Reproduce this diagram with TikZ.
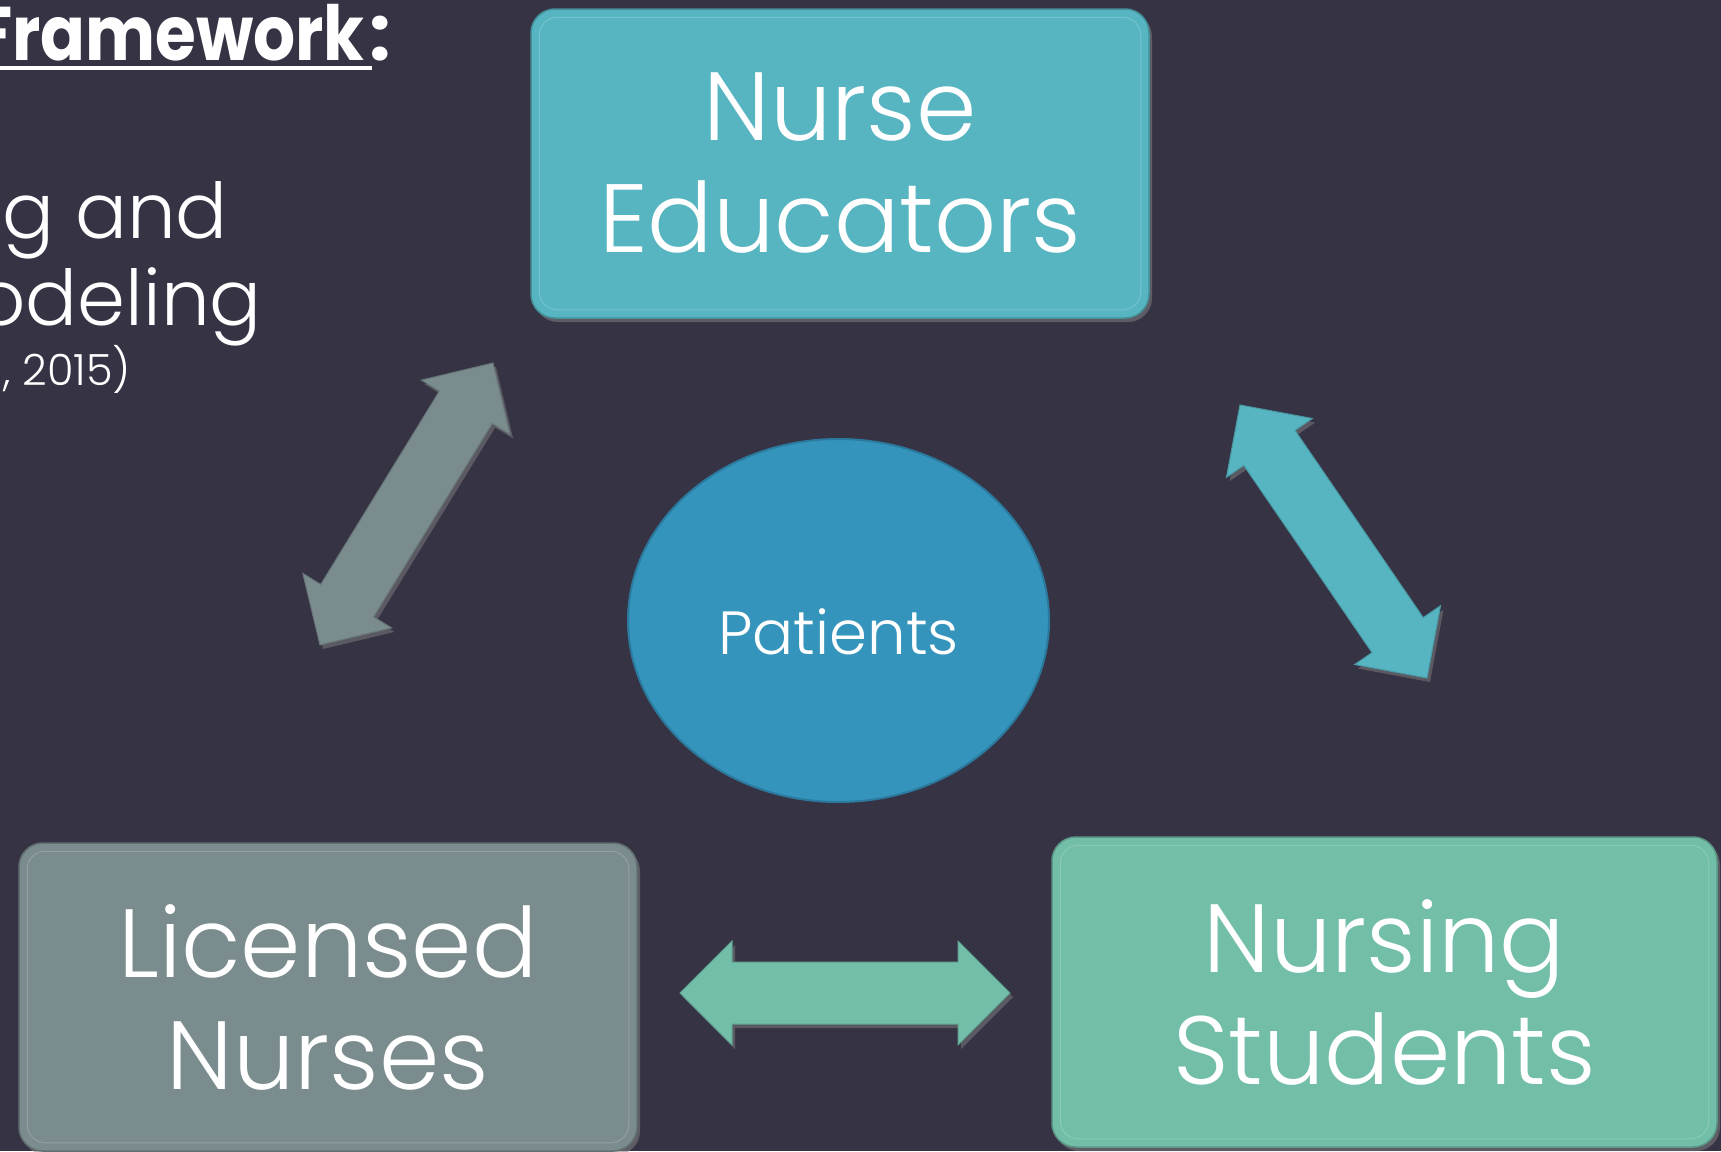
\documentclass[tikz,border=0pt]{standalone}
\usepackage{fontspec}
\setmainfont{Poppins}[UprightFont={* Light}, BoldFont={* Bold}]
\usetikzlibrary{calc,shapes.geometric,shadows}

\definecolor{slidebg}{HTML}{363345}
\definecolor{tealfill}{HTML}{56B5C1}
\definecolor{grayfill}{HTML}{7A8C8D}
\definecolor{greenfill}{HTML}{72BEA8}
\definecolor{patientfill}{HTML}{3594BB}
\definecolor{patientedge}{HTML}{2B7A9E}

% block double arrow between two named tips: #1 style, #2 and #3 the tips
\newcommand\blockarrow[3]{%
  \path[#1] (#2)
    -- ($(#2)!52pt!(#3)!52pt!90:(#3)$)
    -- ($(#2)!52pt!(#3)!31pt!90:(#3)$)
    -- ($(#3)!52pt!(#2)!31pt!-90:(#2)$)
    -- ($(#3)!52pt!(#2)!52pt!-90:(#2)$)
    -- (#3)
    -- ($(#3)!52pt!(#2)!52pt!90:(#2)$)
    -- ($(#3)!52pt!(#2)!31pt!90:(#2)$)
    -- ($(#2)!52pt!(#3)!31pt!-90:(#3)$)
    -- ($(#2)!52pt!(#3)!52pt!-90:(#3)$)
    -- cycle;}

\tikzset{
  card/.style={rectangle, rounded corners=24pt, fill=#1, draw=#1!80!black,
    line width=1.5pt, inner sep=0pt, align=center, text=white,
    font=\fontsize{97}{112}\selectfont,
    drop shadow={opacity=0.55, shadow xshift=3pt, shadow yshift=-4pt}},
  bevel/.style={draw=white, draw opacity=0.18, line width=1pt, rounded corners=18pt},
  flowarrow/.style={fill=#1, draw=#1!85!black, line width=1pt, line join=miter,
    drop shadow={opacity=0.5, shadow xshift=3pt, shadow yshift=-4pt}},
  sidetext/.style={anchor=base east, inner sep=0pt, text=white},
}

\begin{document}
\begin{tikzpicture}[x=1pt, y=-1pt]
  \useasboundingbox (0,0) rectangle (1721,1151);
  \clip (0,0) rectangle (1721,1151);
  \fill[slidebg] (0,0) rectangle (1721,1151);

  % heading and side text
  \node[sidetext, font=\bfseries\addfontfeature{FakeStretch=0.87}\fontsize{76}{80}\selectfont] (title) at (365,60) {Framework};
  \node[anchor=base west, inner sep=0pt, text=white, font=\bfseries\fontsize{76}{80}\selectfont, xshift=4pt] (colon) at (title.base east) {:};
  \draw[white, line width=4pt] ([yshift=-8pt]title.base west) -- ([xshift=7pt,yshift=-8pt]title.base east);
  \node[sidetext, font=\fontsize{77}{90}\selectfont] (line1) at (228,238) {ng and};
  \node[sidetext, font=\fontsize{77}{90}\selectfont] (line2) at (262,325) {odeling};
  \node[sidetext, font=\fontsize{43}{48}\selectfont] (line3) at (131,385) {, 2015)};

  % arrow tips
  \coordinate (gl-a) at (320,645);
  \coordinate (gl-b) at (493,363);
  \coordinate (tr-a) at (1240,405);
  \coordinate (tr-b) at (1427,678);
  \coordinate (gb-a) at (680,993);
  \coordinate (gb-b) at (1010,993);

  \blockarrow{flowarrow=grayfill}{gl-a}{gl-b}
  \blockarrow{flowarrow=tealfill}{tr-a}{tr-b}
  \blockarrow{flowarrow=greenfill}{gb-a}{gb-b}

  % the three groups
  \node[card=tealfill, minimum width=618pt, minimum height=309pt] (educ) at (840,163.5) {Nurse\\Educators};
  \node[card=grayfill, minimum width=618pt, minimum height=308pt] (lic) at (328,997) {Licensed\\Nurses};
  \node[card=greenfill, minimum width=665pt, minimum height=310pt] (stud) at (1384.5,992) {Nursing\\Students};

  \foreach \b in {educ,lic,stud}
    \draw[bevel] ($(\b.south west)+(9,-9)$) rectangle ($(\b.north east)+(-9,9)$);

  % centre
  \node[ellipse, fill=patientfill, draw=patientedge, line width=2pt,
        minimum width=421pt, minimum height=363pt, inner sep=0pt, text=white,
        font=\fontsize{61}{66}\selectfont, text height=76pt, text depth=9pt]
        (pat) at (838.5,620.5) {Patients};
\end{tikzpicture}
\end{document}
